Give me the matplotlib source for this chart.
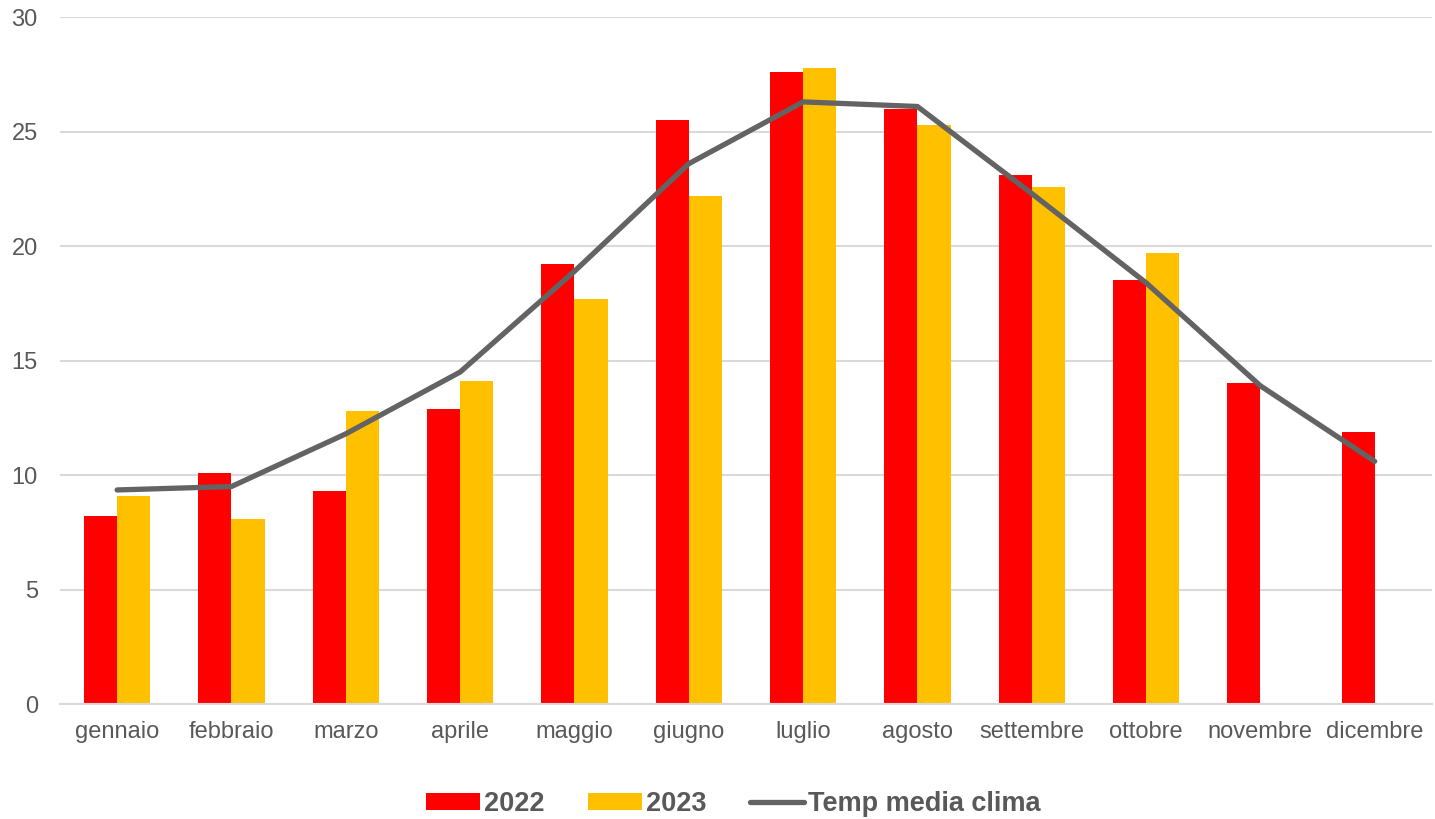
import numpy as np
import matplotlib
matplotlib.use("Agg")
import matplotlib.pyplot as plt

mesi = ["gennaio", "febbraio", "marzo", "aprile", "maggio", "giugno",
        "luglio", "agosto", "settembre", "ottobre", "novembre", "dicembre"]
t2022 = [8.2, 10.1, 9.3, 12.9, 19.2, 25.5, 27.6, 26.0, 23.1, 18.5, 14.0, 11.9]
t2023 = [9.1, 8.1, 12.8, 14.1, 17.7, 22.2, 27.8, 25.3, 22.6, 19.7, np.nan, np.nan]
clima = [9.35, 9.5, 11.8, 14.5, 18.9, 23.6, 26.3, 26.1, 22.3, 18.4, 13.9, 10.6]

plt.rcParams['font.family'] = ['Liberation Sans', 'DejaVu Sans']
txt = "#595959"

fig = plt.figure(figsize=(14.35, 8.19), dpi=100)
ax = fig.add_axes([0.0418, 0.1404, 0.956, 0.8386])

x = np.arange(len(mesi))
w = 0.29
b1 = ax.bar(x - w / 2, t2022, width=w, color="#FF0000", label="2022", zorder=2)
b2 = ax.bar(x + w / 2, t2023, width=w, color="#FFC000", label="2023", zorder=2)
ln, = ax.plot(x, clima, color="#636363", lw=3.8, solid_capstyle="round",
              solid_joinstyle="miter", label="Temp media clima", zorder=3)

ax.set_xlim(-0.5, 11.5)
ax.set_ylim(0, 30)
ax.set_yticks(range(0, 31, 5))
ax.set_xticks(x)
ax.set_xticklabels(mesi)
ax.tick_params(length=0, labelsize=17, labelcolor=txt)
ax.tick_params(axis="x", pad=12)
ax.tick_params(axis="y", pad=16)
ax.grid(axis="y", color="#D9D9D9", lw=1.5, zorder=0)
for s in ["top", "right", "left"]:
    ax.spines[s].set_visible(False)
ax.spines["bottom"].set_color("#D9D9D9")
ax.spines["bottom"].set_linewidth(1.5)

leg = fig.legend([b1, b2, ln], ["2022", "2023", "Temp media clima"],
                 loc="center", bbox_to_anchor=(0.511, 0.018), ncol=3,
                 frameon=False, handlelength=2.0, handleheight=0.57,
                 handletextpad=0.15, columnspacing=1.6,
                 prop={"size": 19.5, "weight": "bold"})
for t in leg.get_texts():
    t.set_color(txt)

fig.savefig("out.png", dpi=100)
